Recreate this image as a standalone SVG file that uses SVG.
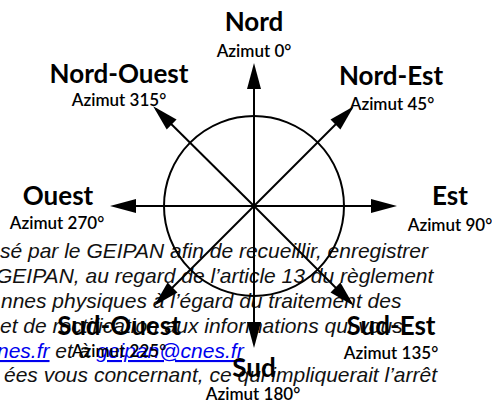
<svg xmlns="http://www.w3.org/2000/svg" width="492" height="403" viewBox="0 0 492 403">
<style>
.bg{font-family:"Liberation Sans",Arial,sans-serif;font-style:italic;font-size:21px;fill:#111}
.lnk{fill:#0000ee;text-decoration:underline}
.big{font-family:Lato,"Open Sans",sans-serif;font-weight:bold;font-size:26px;fill:#000;text-anchor:middle}
.az{font-family:Lato,"Open Sans",sans-serif;font-weight:600;font-size:17px;fill:#000;text-anchor:middle}
.ln{stroke:#000;stroke-width:2;fill:none}
</style>
<defs>
<marker id="ah" viewBox="-24 -8 30 16" markerWidth="30" markerHeight="16" refX="0" refY="0" orient="auto" markerUnits="userSpaceOnUse">
<path d="M4,0 L-22,-7 L-22,7 Z" fill="#000"/>
</marker>
</defs>
<g id="background-text" class="bg">
<text x="0" y="258">sé par le GEIPAN afin de recueillir, enregistrer</text>
<text x="-4" y="283">GEIPAN, au regard de l’article 13 du règlement</text>
<text x="1" y="308">nnes physiques à l’égard du traitement des</text>
<text x="0" y="333">et de rectification aux informations qui vous</text>
<text x="-3" y="358"><tspan class="lnk">nes.fr</tspan> et à <tspan class="lnk">geipan@cnes.fr</tspan></text>
<text x="4" y="382">ées vous concernant, ce qui impliquerait l’arrêt</text>
</g>
<g id="circle"><circle cx="254" cy="206" r="90" class="ln"/></g>
<g id="connectors" class="ln">
<line x1="254" y1="206" x2="254" y2="67" marker-end="url(#ah)"/>
<line x1="254" y1="206" x2="254" y2="344" marker-end="url(#ah)"/>
<line x1="254" y1="206" x2="393" y2="206" marker-end="url(#ah)"/>
<line x1="254" y1="206" x2="114" y2="206" marker-end="url(#ah)"/>
<line x1="254" y1="206" x2="156" y2="109" marker-end="url(#ah)"/>
<line x1="254" y1="206" x2="351" y2="109" marker-end="url(#ah)"/>
<line x1="254" y1="206" x2="157" y2="303" marker-end="url(#ah)"/>
<line x1="254" y1="206" x2="351" y2="303" marker-end="url(#ah)"/>
</g>
<g id="nord"><text class="big" x="254" y="31">Nord</text><text class="az" x="254" y="57">Azimut 0°</text></g>
<g id="nord-ouest"><text class="big" x="119" y="83">Nord-Ouest</text><text class="az" x="119" y="106">Azimut 315°</text></g>
<g id="nord-est"><text class="big" x="391" y="85">Nord-Est</text><text class="az" x="392" y="110">Azimut 45°</text></g>
<g id="ouest"><text class="big" x="58" y="205">Ouest</text><text class="az" x="57" y="229">Azimut 270°</text></g>
<g id="est"><text class="big" x="450" y="205">Est</text><text class="az" x="450" y="231">Azimut 90°</text></g>
<g id="sud-ouest"><text class="big" x="119" y="335">Sud-Ouest</text><text class="az" x="119" y="357">Azimut 225°</text></g>
<g id="sud-est"><text class="big" x="391" y="335">Sud-Est</text><text class="az" x="391" y="359">Azimut 135°</text></g>
<g id="sud"><text class="big" x="254" y="377">Sud</text><text class="az" x="253" y="400">Azimut 180°</text></g>
</svg>
